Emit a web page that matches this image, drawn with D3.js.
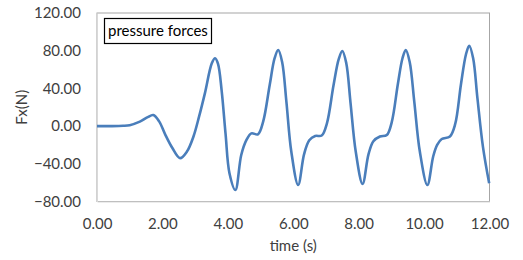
<!DOCTYPE html>
<html>
<head>
<meta charset="utf-8">
<script src="https://cdn.jsdelivr.net/npm/d3@7"></script>
<style>
  body { margin: 0; background: #fff; }
  text { font-family: Lato, "Open Sans", sans-serif; fill: #404040; }
</style>
</head>
<body>
<div id="chart"></div>
<script>
// time (s) and Fx (N)
var time = [0, 0.4, 0.8, 1.0, 1.31, 1.55, 1.72, 1.9, 2.08, 2.3, 2.54, 2.75, 2.95, 3.12, 3.30, 3.51, 3.61, 3.70, 3.81, 3.93, 4.05,
  4.23, 4.41, 4.57, 4.72, 4.92, 5.08, 5.28, 5.43, 5.54, 5.66, 5.79, 5.94, 6.15,
  6.33, 6.49, 6.67, 6.87, 7.03, 7.23, 7.39, 7.50, 7.62, 7.75, 7.91, 8.12,
  8.30, 8.45, 8.65, 8.86, 9.01, 9.20, 9.34, 9.44, 9.56, 9.70, 9.87, 10.10,
  10.28, 10.40, 10.54, 10.79, 10.95, 11.13, 11.28, 11.38, 11.50, 11.63, 11.80, 11.99];
var fx = [0, 0, 0.3, 1, 4.7, 9.5, 11.8, 5, -8.5, -23, -34, -27, -11, 10, 35, 66.6, 72, 66, 38, -8, -50,
  -67.8, -30.7, -14.7, -7.7, -8.7, 4.7, 43.6, 72, 80.7, 68, 26, -27, -62.5,
  -30, -15, -10.5, -10, 3, 43, 71, 79.7, 67, 25, -27, -61.4,
  -30, -16, -11, -9.5, 4, 45, 72, 80.7, 68, 26, -27, -62.5,
  -32, -20, -13.7, -11, 2, 45, 76, 85.3, 72, 30, -22, -60.7];

var xTicks = [0, 2, 4, 6, 8, 10, 12];
var yTicks = [-80, -40, 0, 40, 80, 120];
var seriesName = "pressure forces";

var width = 523, height = 260;
var plotL = 97, plotR = 489.5, plotT = 13, plotB = 201.5;
var fontSize = 15;

var svg = d3.select("#chart").append("svg")
    .attr("width", width)
    .attr("height", height);

var x = d3.scaleLinear().domain([0, 12]).range([plotL, plotR]);
var y = d3.scaleLinear().domain([-80, 120]).range([plotB, plotT]);

// plot area border
svg.append("rect")
    .attr("x", plotL).attr("y", plotT)
    .attr("width", plotR - plotL).attr("height", plotB - plotT)
    .attr("fill", "none")
    .attr("stroke", "#a6a6a6")
    .attr("stroke-width", 1);

// axes
var xAxis = svg.append("g")
    .attr("transform", "translate(0," + plotB + ")")
    .call(d3.axisBottom(x).tickValues(xTicks).tickFormat(d3.format(".2f")).tickSize(0).tickPadding(17));
var yAxis = svg.append("g")
    .attr("transform", "translate(" + plotL + ",0)")
    .call(d3.axisLeft(y).tickValues(yTicks).tickFormat(d3.format(".2f")).tickSize(0).tickPadding(16));

[xAxis, yAxis].forEach(function(g) {
  g.select(".domain").attr("stroke", "#d9d9d9").attr("stroke-width", 1);
  g.selectAll("text").attr("font-size", fontSize).attr("font-family", "Lato, 'Open Sans', sans-serif").attr("fill", "#404040");
});

// series
var pts = time.map(function(t, i) { return [t, fx[i]]; });
svg.append("path")
    .datum(pts)
    .attr("fill", "none")
    .attr("stroke", "#4a7ebb")
    .attr("stroke-width", 2.6)
    .attr("stroke-linejoin", "round")
    .attr("d", d3.line()
        .curve(d3.curveCatmullRom.alpha(0.5))
        .x(function(d) { return x(d[0]); })
        .y(function(d) { return y(d[1]); }));

// axis titles
svg.append("text")
    .attr("x", (plotL + plotR) / 2).attr("y", 251)
    .attr("text-anchor", "middle")
    .attr("font-size", fontSize)
    .text("time (s)");
svg.append("text")
    .attr("transform", "translate(27," + (plotT + plotB) / 2 + ")rotate(-90)")
    .attr("text-anchor", "middle")
    .attr("font-size", fontSize)
    .text("Fx(N)");

// legend box
svg.append("rect")
    .attr("x", 104.5).attr("y", 18.5)
    .attr("width", 107).attr("height", 25)
    .attr("fill", "#fff")
    .attr("stroke", "#000")
    .attr("stroke-width", 1.2);
svg.append("text")
    .attr("x", 108).attr("y", 36)
    .attr("font-size", fontSize)
    .style("fill", "#000")
    .text(seriesName);
</script>
</body>
</html>
